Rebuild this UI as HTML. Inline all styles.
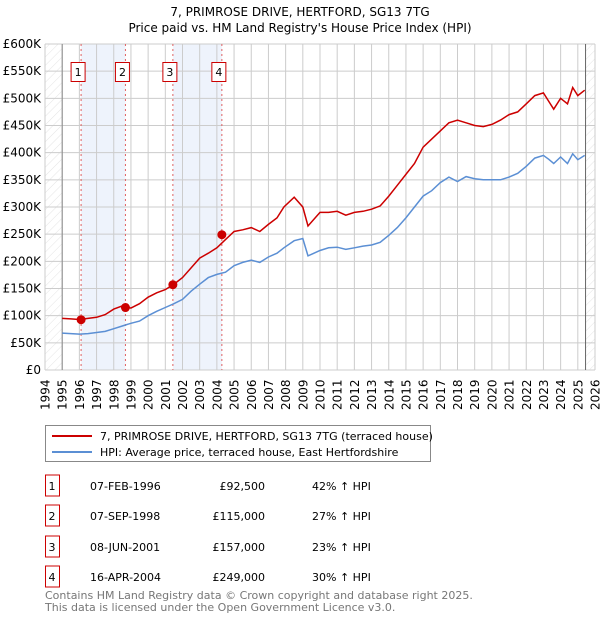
<!DOCTYPE html>
<html><head><meta charset="utf-8"><style>
body{margin:0;background:#fff;font-family:"Liberation Sans","DejaVu Sans",sans-serif;}
svg text{font-family:"DejaVu Sans","Liberation Sans",sans-serif;}
</style></head><body>
<svg id="c" width="600" height="620" xmlns="http://www.w3.org/2000/svg">
<defs><pattern id="h" width="6" height="6" patternUnits="userSpaceOnUse" patternTransform="rotate(45)"><line x1="0" y1="0" x2="0" y2="6" stroke="#ddd" stroke-width="0.8"/></pattern></defs>
<text x="300" y="16" text-anchor="middle" font-size="12">7, PRIMROSE DRIVE, HERTFORD, SG13 7TG</text>
<text x="300" y="32" text-anchor="middle" font-size="12">Price paid vs. HM Land Registry's House Price Index (HPI)</text>
<g id="plot"></g>
<g>
<rect x="45.5" y="425.5" width="385" height="36" fill="#fff" stroke="#888"/>
<line x1="52" y1="436" x2="92" y2="436" stroke="#cc0000" stroke-width="2"/>
<text x="100" y="440" font-size="11">7, PRIMROSE DRIVE, HERTFORD, SG13 7TG (terraced house)</text>
<line x1="52" y1="452" x2="92" y2="452" stroke="#5b8fd4" stroke-width="2"/>
<text x="100" y="456" font-size="11">HPI: Average price, terraced house, East Hertfordshire</text>
</g>
<g id="table" font-size="11"></g>
<text x="45" y="599" font-size="11" fill="#777">Contains HM Land Registry data © Crown copyright and database right 2025.</text>
<text x="45" y="611" font-size="11" fill="#777">This data is licensed under the Open Government Licence v3.0.</text>
</svg>
<script>
const yTicks=[0,50,100,150,200,250,300,350,400,450,500,550,600];
const yearTicks=[1994,1995,1996,1997,1998,1999,2000,2001,2002,2003,2004,2005,2006,2007,2008,2009,2010,2011,2012,2013,2014,2015,2016,2017,2018,2019,2020,2021,2022,2023,2024,2025,2026];
const hpiYears=[1995,1995.5,1996,1996.5,1997,1997.5,1998,1998.5,1999,1999.5,2000,2000.5,2001,2001.5,2002,2002.5,2003,2003.5,2004,2004.5,2005,2005.5,2006,2006.5,2007,2007.5,2007.9,2008.5,2009,2009.3,2010,2010.5,2011,2011.5,2012,2012.5,2013,2013.5,2014,2014.5,2015,2015.5,2016,2016.5,2017,2017.5,2018,2018.5,2019,2019.5,2020,2020.5,2021,2021.5,2022,2022.5,2023,2023.3,2023.6,2024,2024.4,2024.7,2025,2025.4];
const hpiValues=[68,67,66,67,69,71,76,81,86,90,100,108,115,122,130,145,158,170,176,180,192,198,202,198,208,215,225,238,242,210,220,225,226,222,225,228,230,235,248,262,280,300,320,330,345,355,347,356,352,350,350,350,355,362,375,390,395,388,380,392,380,398,387,395];
const saleValues=[95,94,93,95,97,102,112,118,114,122,134,142,148,158,170,188,206,215,225,240,255,258,262,255,268,280,300,318,300,265,290,290,292,285,290,292,296,302,320,340,360,380,410,425,440,455,460,455,450,448,452,460,470,475,490,505,510,495,480,500,490,520,505,515];
const saleDates=[1996.1,1998.68,2001.44,2004.29];
const salePrices=[92.5,115,157,249];
const saleLabels=["1","2","3","4"];
const tDates=["07-FEB-1996","07-SEP-1998","08-JUN-2001","16-APR-2004"];
const tPrices=["£92,500","£115,000","£157,000","£249,000"];
const tPct=["42% ↑ HPI","27% ↑ HPI","23% ↑ HPI","30% ↑ HPI"];
const NS="http://www.w3.org/2000/svg";
const L=45,R=595,T=44,B=370;
const X=y=>L+(y-1994)/(2026-1994)*(R-L);
const Y=v=>B-v/600*(B-T);
const plot=document.getElementById('plot');
function mk(tag,attrs,parent){const e=document.createElementNS(NS,tag);for(const k in attrs)e.setAttribute(k,attrs[k]);(parent||plot).appendChild(e);return e;}
let e=mk('rect',{x:L,y:T,width:X(1995)-L,height:B-T,fill:'url(#h)'});


e=mk('rect',{x:X(2025.45),y:T,width:R-X(2025.45),height:B-T,fill:'url(#h)'});


[[0,1],[2,3]].forEach(p=>{const s=mk('rect',{x:X(saleDates[p[0]]),y:T,width:X(saleDates[p[1]])-X(saleDates[p[0]]),height:B-T,fill:'#eef3fc'});

});
yTicks.forEach(v=>{const g=mk('line',{x1:L,x2:R,y1:Y(v),y2:Y(v),stroke:'#ccc'});


const t=mk('text',{x:L-4,y:Y(v)+4,'text-anchor':'end','font-size':12});t.textContent=v===0?'£0':'£'+v+'K';

});
yearTicks.forEach(y=>{const g=mk('line',{x1:X(y),x2:X(y),y1:T,y2:B,stroke:'#ccc'});


const t=mk('text',{x:0,y:0,'font-size':12,transform:`translate(${X(y)+4.5},410) rotate(-90)`});t.textContent=y;

});
e=mk('line',{x1:X(1995),x2:X(1995),y1:T,y2:B,stroke:'#888'});


e=mk('line',{x1:X(2025.45),x2:X(2025.45),y1:T,y2:B,stroke:'#666'});


saleDates.forEach((d,i)=>{const l=mk('line',{x1:X(d),x2:X(d),y1:T,y2:B,stroke:'#e06060','stroke-dasharray':'2,3'});


const r=mk('rect',{x:X(d)-10,y:62.5,width:14,height:19,fill:'#fff',stroke:'#cc0000'});


const t=mk('text',{x:X(d)-3,y:76,'text-anchor':'middle','font-size':11});t.textContent=saleLabels[i];

});
const path=(vals)=>hpiYears.map((y,i)=>(i?'L':'M')+X(y).toFixed(1)+','+Y(vals[i]).toFixed(1)).join('');
e=mk('path',{d:path(hpiValues),fill:'none',stroke:'#5b8fd4','stroke-width':1.5});


e=mk('path',{d:path(saleValues),fill:'none',stroke:'#cc0000','stroke-width':1.5});


saleDates.forEach((d,i)=>{const c=mk('circle',{cx:X(d),cy:Y(salePrices[i]),r:4.5,fill:'#cc0000'});

});
const tb=document.getElementById('table');
const rowY=[487,517,548,578];
rowY.forEach((y,i)=>{const r=mk('rect',{x:45.5,y:y-12,width:14,height:21,fill:'#fff',stroke:'#cc0000'},tb);


const cells=[[52,saleLabels[i],'middle'],[90,tDates[i],'start'],[265,tPrices[i],'end'],[312,tPct[i],'start']];
cells.forEach(c=>{const t=mk('text',{x:c[0],y:y+3,'text-anchor':c[2]},tb);t.textContent=c[1];

});});
</script>
</body></html>
